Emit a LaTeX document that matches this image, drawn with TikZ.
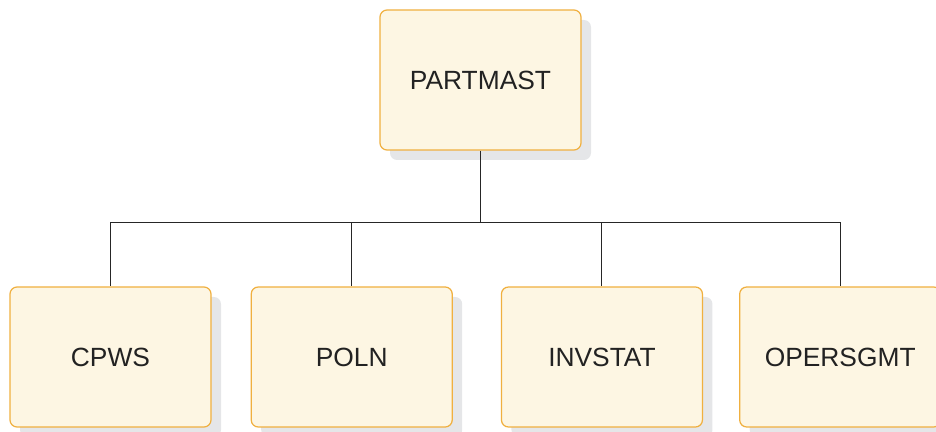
\documentclass[tikz,border=0pt]{standalone}
\usepackage{fontspec}
\setmainfont{Liberation Sans}
\usetikzlibrary{positioning,shadows}
\definecolor{segfill}{RGB}{253,246,227}
\definecolor{segedge}{RGB}{240,176,64}
\definecolor{segshadow}{RGB}{229,230,232}
\definecolor{segtext}{RGB}{34,34,34}

\begin{document}
\begin{tikzpicture}[
    seg/.style={draw=segedge, fill=segfill, rounded corners=4pt, line width=0.7pt,
                minimum width=4.02cm, minimum height=2.8cm, text=segtext,
                font=\fontsize{15}{17}\selectfont,
                drop shadow={shadow xshift=0.2cm, shadow yshift=-0.2cm,
                             fill=segshadow, opacity=1}},
    link/.style={draw=black!85, line width=0.6pt}]
    \useasboundingbox (0,0) rectangle (18.72,-8.64);
    \node[seg] (partmast) at (9.61,-1.6) {PARTMAST};
    \node[seg] (cpws) at (2.21,-7.14) {CPWS};
    \node[seg, right=0.78cm of cpws] (poln) {POLN};
    \node[seg, right=0.96cm of poln] (invstat) {INVSTAT};
    \node[seg, right=0.72cm of invstat] (opersgmt) {OPERSGMT};
    \draw[link] (partmast.south) -- ++(0,-1.44) coordinate (hub);
    \draw[link] (hub) -| (cpws.north);
    \draw[link] (hub) -| (poln.north);
    \draw[link] (hub) -| (invstat.north);
    \draw[link] (hub) -| (opersgmt.north);
  \end{tikzpicture}
\end{document}
